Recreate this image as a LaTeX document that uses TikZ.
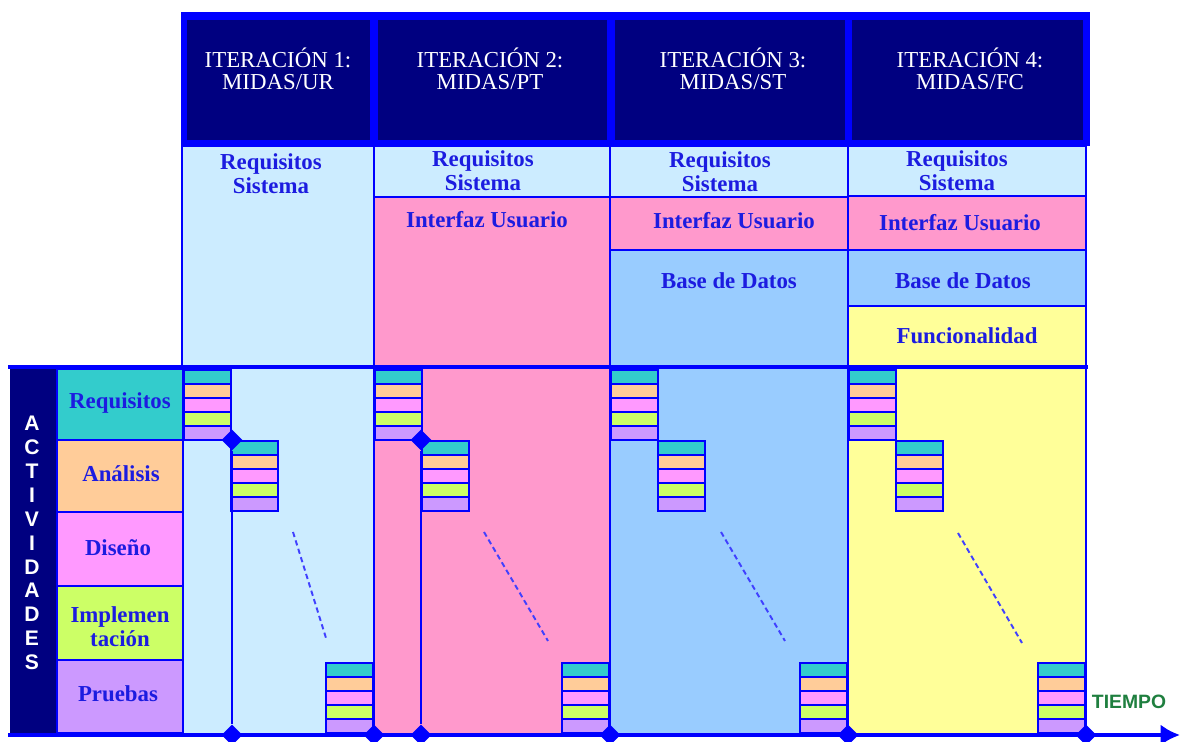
\documentclass[tikz,border=0pt]{standalone}
\usepackage{fontspec}
\setmainfont{Liberation Serif}
\newfontfamily\axisfont{Liberation Sans}
\usepackage{tikz}
\usetikzlibrary{arrows.meta,positioning,shapes.geometric}
\usepackage{xcolor}

\definecolor{navy}{HTML}{000080}
\definecolor{frame}{HTML}{0000FF}
\definecolor{skyfill}{HTML}{CCECFF}
\definecolor{rosefill}{HTML}{FF99CC}
\definecolor{bluefill}{HTML}{99CCFF}
\definecolor{lemonfill}{HTML}{FFFF99}
\definecolor{reqcol}{HTML}{33CCCC}
\definecolor{anacol}{HTML}{FFCC99}
\definecolor{discol}{HTML}{FF99FF}
\definecolor{impcol}{HTML}{CCFF66}
\definecolor{prucol}{HTML}{CC99FF}
\definecolor{labelblue}{HTML}{1C1CE0}
\definecolor{timegreen}{HTML}{1F7F3F}

\tikzset{
  cell/.style={draw=frame,line width=0.8pt},
  lbl/.style={text=labelblue,font=\bfseries\fontsize{13}{13.5}\selectfont,align=center,inner sep=0pt},
  head/.style={text=white,font=\fontsize{13}{12.8}\selectfont,align=center,inner sep=0pt},
  hito/.style={diamond,fill=frame,inner sep=0pt,minimum size=0.42cm},
  dashline/.style={draw=frame!75,line width=1.1pt,dash pattern=on 3pt off 2pt}
}

% five coloured bands of one activity block
\newcommand{\actstack}[2]{%
  \foreach \c [count=\i from 0] in {reqcol,anacol,discol,impcol,prucol}
    \filldraw[fill=\c,draw=frame,line width=1pt] (#1,#2+14*\i) rectangle ++(47,14);}

\begin{document}
\begin{tikzpicture}[x=0.02cm,y=-0.02cm]
  \useasboundingbox (0,0) rectangle (1181,742);

  % iteration headers
  \fill[frame] (181,12) rectangle (1090,146);
  \foreach \a/\b in {187/370,378/607,615/845,852/1083}
    \fill[navy] (\a,20) rectangle (\b,140);
  \node (h1) [head] at (278,69) {ITERACIÓN 1:\\MIDAS/UR};
  \node (h2) [head] at (490,69) {ITERACIÓN 2:\\MIDAS/PT};
  \node (h3) [head] at (733,69) {ITERACIÓN 3:\\MIDAS/ST};
  \node (h4) [head] at (970,69) {ITERACIÓN 4:\\MIDAS/FC};

  % subsystems per iteration
  \filldraw[cell,fill=skyfill] (182,146) rectangle (374,367);
  \filldraw[cell,fill=skyfill] (374,146) rectangle (610,197);
  \filldraw[cell,fill=rosefill] (374,197) rectangle (610,367);
  \filldraw[cell,fill=skyfill] (610,146) rectangle (848,197);
  \filldraw[cell,fill=rosefill] (610,197) rectangle (848,250);
  \filldraw[cell,fill=bluefill] (610,250) rectangle (848,367);
  \filldraw[cell,fill=skyfill] (848,146) rectangle (1086,196);
  \filldraw[cell,fill=rosefill] (848,196) rectangle (1086,250);
  \filldraw[cell,fill=bluefill] (848,250) rectangle (1086,306);
  \filldraw[cell,fill=lemonfill] (848,306) rectangle (1086,367);
  \node (rs1) [lbl] at (271,174) {Requisitos\\Sistema};
  \node (rs2) [lbl] at (483,171) {Requisitos\\Sistema};
  \node (rs3) [lbl] at (720,172) {Requisitos\\Sistema};
  \node (rs4) [lbl] at (957,171) {Requisitos\\Sistema};
  \node (iu2) [lbl] at (487,220) {Interfaz Usuario};
  \node (iu3) [lbl] at (734,221) {Interfaz Usuario};
  \node (iu4) [lbl] at (960,223) {Interfaz Usuario};
  \node (bd3) [lbl] at (729,281) {Base de Datos};
  \node (bd4) [lbl] at (963,281) {Base de Datos};
  \node (fu4) [lbl] at (967,336) {Funcionalidad};

  % activities
  \fill[navy] (10,369) rectangle (56,733);
  \node (act) [text=white,font=\axisfont\bfseries\fontsize{12}{13.6}\selectfont,align=center,inner sep=0pt] at (32,543)
    {A\\C\\T\\I\\V\\I\\D\\A\\D\\E\\S};
  \filldraw[cell,fill=reqcol] (57,369) rectangle (183,440);
  \filldraw[cell,fill=anacol] (57,440) rectangle (183,512);
  \filldraw[cell,fill=discol] (57,512) rectangle (183,586);
  \filldraw[cell,fill=impcol] (57,586) rectangle (183,660);
  \filldraw[cell,fill=prucol] (57,660) rectangle (183,733);
  \node (a1) [lbl] at (120,403) {Requisitos};
  \node (a2) [lbl] at (121,474) {Análisis};
  \node (a3) [lbl] at (118,548) {Diseño};
  \node (a4) [lbl] at (120,627) {Implemen\\tación};
  \node (a5) [lbl] at (118,694) {Pruebas};

  % time columns
  \filldraw[cell,fill=skyfill] (183,367) rectangle (374,735);
  \filldraw[cell,fill=rosefill] (374,367) rectangle (610,735);
  \filldraw[cell,fill=bluefill] (610,367) rectangle (848,735);
  \filldraw[cell,fill=lemonfill] (848,367) rectangle (1086,735);
  \foreach \l/\r in {183/374,374/610,610/848,848/1086}{
    \actstack{\l+1}{370}
    \actstack{\l+48}{441}
    \actstack{\r-48}{663}
  }
  \draw[dashline] (293,532) -- (326,638);
  \draw[dashline] (484,532) -- (548,641);
  \draw[dashline] (721,532) -- (785,641);
  \draw[dashline] (958,533) -- (1022,643);

  % axes
  \draw[frame,line width=2.5pt] (8,367) -- (1088,367);
  \coordinate (o) at (8,735);
  \coordinate (t) at (1180,735);
  \draw[frame,line width=2.8pt,-{Latex[length=11pt,width=12pt]}] (o) -- (t);
  \node (tiempo) [text=timegreen,font=\axisfont\bfseries\fontsize{11}{12}\selectfont,inner sep=0pt] at (1129,702) {TIEMPO};

  % milestones
  \node (d1) [hito] at (232,440) {};
  \node (d2) [hito] at (421,440) {};
  \node (b1) [hito] at (232,735) {};
  \node (b2) [hito] at (421,735) {};
  \draw[frame,line width=0.8pt] (d1) -- (b1);
  \draw[frame,line width=0.8pt] (d2) -- (b2);
  \foreach \x [count=\k] in {374,610,848,1086}
    \node (e\k) [hito] at (\x,735) {};
\end{tikzpicture}
\end{document}
